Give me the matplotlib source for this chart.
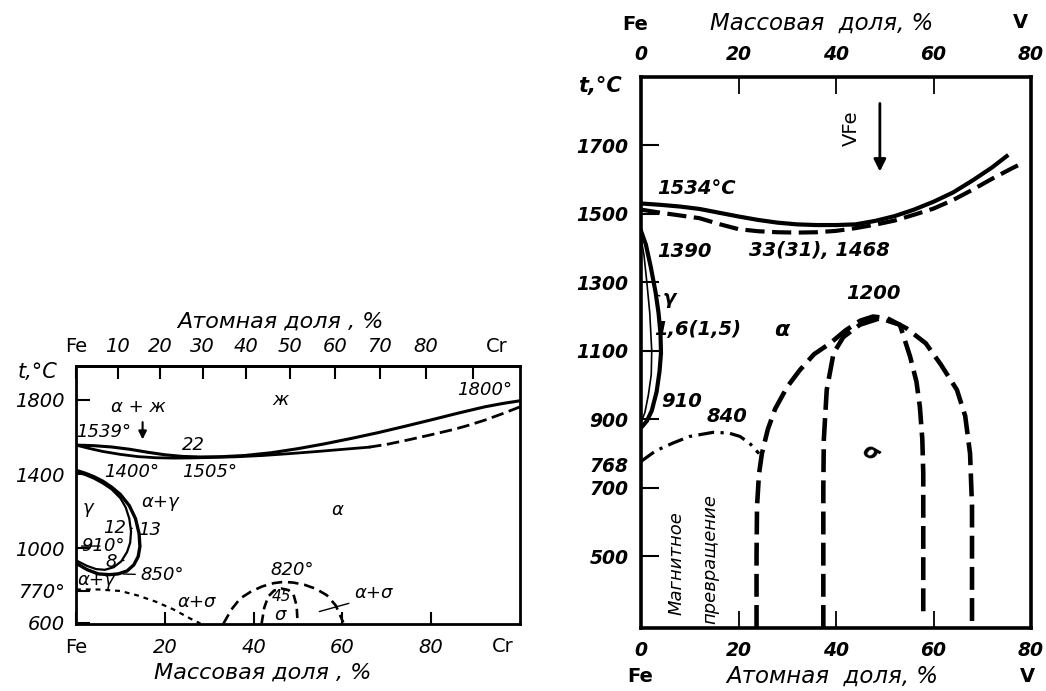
import numpy as np
import matplotlib.pyplot as plt

W, H = 1046, 691

# -------------------------------------------------
# Fe-Cr (left panel): mass % Cr, t in degC
# -------------------------------------------------
cr_liq_x = [0, 4, 8, 12, 16, 20, 24, 28, 33, 38, 44, 50, 56, 62, 68, 74, 80, 86, 92, 96, 100]
cr_liq_t = [1556, 1553, 1546, 1534, 1518, 1504, 1495, 1492, 1494, 1500, 1515, 1537, 1563,
            1592, 1623, 1657, 1692, 1728, 1762, 1780, 1795]

cr_sol_x = [0, 3, 6, 10, 14, 18, 22, 26, 30, 36, 42, 48, 54, 60, 66]
cr_sol_t = [1556, 1538, 1522, 1506, 1494, 1488, 1486, 1487, 1489, 1493, 1500, 1510, 1521, 1533, 1545]
cr_sol_dash_x = [66, 70, 75, 80, 85, 88, 92, 96, 100]
cr_sol_dash_t = [1545, 1560, 1585, 1612, 1640, 1660, 1690, 1725, 1762]

cr_gam_in_x = [0, 2, 4, 6, 8, 10, 11.2, 12, 12.4, 12.2, 11.5, 10.2, 8.5, 6.5, 4.5, 2.5, 0]
cr_gam_in_t = [1410, 1396, 1376, 1350, 1318, 1270, 1220, 1160, 1090, 1030, 980, 930, 898, 884, 888, 905, 935]
cr_gam_out_x = [0, 2, 4, 6, 8, 10, 12, 13.4, 14.2, 14.4, 14, 13, 11.5, 9.5, 7.5, 5, 2.5, 0]
cr_gam_out_t = [1420, 1405, 1386, 1362, 1330, 1290, 1230, 1160, 1080, 1010, 955, 910, 878, 862,
                858, 862, 885, 920]

cr_mag_x = [0, 5, 10, 14, 18, 22, 26, 28]
cr_mag_t = [778, 778, 770, 745, 712, 670, 618, 595]

cr_sig_out_x = [33.2, 35, 37, 39.5, 42, 44.5, 46.7, 49, 51.5, 54, 56.5, 58.5, 60.2]
cr_sig_out_t = [594, 670, 730, 768, 795, 812, 819, 815, 803, 782, 747, 692, 600]
cr_sig_in_x = [41.8, 42.4, 43.3, 44.6, 46.3, 47.8, 49, 49.7, 49.9]
cr_sig_in_t = [594, 680, 740, 772, 783, 775, 750, 690, 600]

cr_yticks = [600, 770, 1000, 1400, 1800]
cr_ylabels = ['600', '770°', '1000', '1400', '1800']
cr_mass_ticks = [0, 20, 40, 60, 80]
cr_mass_labels = ['Fe', '20', '40', '60', '80']
cr_atom_ticks = [0, 10, 20, 30, 40, 50, 60, 70, 80, 90]
cr_atom_labels = ['Fe', '10', '20', '30', '40', '50', '60', '70', '80', '']

# -------------------------------------------------
# Fe-V (right panel): % V, t in degC
# -------------------------------------------------
v_liq_x = [0, 4, 8, 12, 16, 20, 24, 28, 32, 36, 40, 44, 48, 52, 56, 60, 64, 68, 72, 75]
v_liq_t = [1530, 1526, 1521, 1514, 1503, 1492, 1482, 1474, 1469, 1467, 1467, 1469, 1479,
           1493, 1512, 1535, 1562, 1597, 1635, 1668]

v_sol_x = [0, 4, 8, 12, 16, 20, 24, 28, 32, 36, 40, 44, 48, 52, 56, 60, 64, 68, 72, 76, 78]
v_sol_t = [1512, 1503, 1495, 1487, 1470, 1455, 1449, 1446, 1445, 1446, 1450, 1458, 1468,
           1480, 1497, 1515, 1540, 1570, 1602, 1632, 1646]

v_gam_out_x = [0, 1, 2, 3, 3.6, 4.0, 4.1, 3.8, 3.2, 2.2, 1.2, 0]
v_gam_out_t = [1450, 1410, 1345, 1270, 1210, 1150, 1093, 1040, 980, 925, 895, 875]
v_gam_in_x = [0, 0.6, 1.2, 1.8, 2.2, 2.1, 1.5, 0.8, 0]
v_gam_in_t = [1430, 1380, 1300, 1210, 1100, 1030, 970, 920, 890]

v_mag_x = [0, 3, 6.6, 10, 14.8, 18, 20.3, 22.3, 24.2]
v_mag_t = [777, 808, 831, 850, 862, 860, 850, 830, 800]

v_sig_out_x = [23.7, 23.7, 23.8, 24.2, 24.8, 26, 27.5, 30, 32.6, 35.5, 38.8, 42, 45, 47.6,
               50.5, 54.4, 58.4, 61.5, 64.8, 66.5, 67.5, 67.9, 67.9]
v_sig_out_t = [291, 500, 646, 740, 800, 870, 930, 995, 1044, 1090, 1122, 1160, 1188, 1200,
               1195, 1166, 1122, 1060, 986, 910, 800, 646, 291]
v_sig_in_x = [37.4, 37.4, 37.5, 38.1, 39.5, 41.5, 44.9, 49, 53.1, 55.2, 56.5, 57.2, 57.7, 57.9, 57.9]
v_sig_in_t = [291, 700, 840, 986, 1093, 1140, 1176, 1195, 1176, 1083, 1010, 937, 843, 743, 330]

v_yticks = [500, 700, 900, 1100, 1300, 1500, 1700]
v_xticks = [0, 20, 40, 60, 80]


def px(x, y):
    # pixel position in the 1046x691 picture -> figure fraction
    return x / W, 1 - y / H


def mass_to_at(m):
    m = np.clip(np.asarray(m, dtype=float), 0, 100)
    a = m / 52.0
    b = (100 - m) / 55.85
    return 100 * a / (a + b)


def at_to_mass(a):
    a = np.clip(np.asarray(a, dtype=float), 0, 100)
    m = a * 52.0
    f = (100 - a) * 55.85
    return 100 * m / (m + f)


it = dict(fontstyle='italic')
fig = plt.figure(figsize=(W / 100, H / 100), dpi=100)

# -------------------------------------------------
# Left: Fe-Cr
# -------------------------------------------------
ax1 = fig.add_axes([76 / W, 1 - 624 / H, 444 / W, (624 - 365.7) / H])
ax1.set_xlim(0, 100)
ax1.set_ylim(592, 1984)
for s in ax1.spines.values():
    s.set_linewidth(2)

ax1.plot(cr_liq_x, cr_liq_t, color='k', lw=2.2)
ax1.plot(cr_sol_x, cr_sol_t, color='k', lw=2.0)
ax1.plot(cr_sol_dash_x, cr_sol_dash_t, color='k', lw=2.0, dashes=(4.5, 2))
ax1.plot(cr_gam_in_x, cr_gam_in_t, color='k', lw=1.6)
ax1.plot(cr_gam_out_x, cr_gam_out_t, color='k', lw=2.4)
ax1.plot(cr_mag_x, cr_mag_t, color='k', lw=1.6, dashes=(2.2, 2.2))
ax1.plot(cr_sig_out_x, cr_sig_out_t, color='k', lw=1.9, dashes=(4, 2.2))
ax1.plot(cr_sig_in_x, cr_sig_in_t, color='k', lw=1.9, dashes=(3.5, 2))

ax1.set_yticks(cr_yticks, cr_ylabels)
ax1.set_xticks(cr_mass_ticks, cr_mass_labels)
ax1.tick_params(axis='y', direction='in', length=10, width=1.5, pad=8, labelsize=14)
ax1.tick_params(axis='x', direction='in', length=9, width=1.5, pad=10, labelsize=14)
for lab in ax1.get_xticklabels() + ax1.get_yticklabels():
    lab.set_fontstyle('normal' if lab.get_text() == 'Fe' else 'italic')

sec1 = ax1.secondary_xaxis('top', functions=(mass_to_at, at_to_mass))
sec1.set_xticks(cr_atom_ticks, cr_atom_labels)
sec1.tick_params(direction='in', length=9, width=1.5, pad=7, labelsize=14)
sec1.spines['top'].set_linewidth(2)
for lab in sec1.get_xticklabels():
    lab.set_fontstyle('normal' if lab.get_text() == 'Fe' else 'italic')

fig.text(*px(497, 347), 'Cr', fontsize=14, ha='center', va='center')
fig.text(*px(503, 647), 'Cr', fontsize=14, ha='center', va='center')
fig.text(*px(280, 322), 'Атомная доля , %', fontsize=16, ha='center', va='center', **it)
fig.text(*px(263, 673), 'Массовая доля , %', fontsize=16, ha='center', va='center', **it)
fig.text(*px(38, 372), 't,°C', fontsize=15, ha='center', va='center', **it)

tk = dict(fontsize=13, ha='center', va='center', **it)
ax1.text(14, 1761, 'α + ж', **tk)
ax1.text(46, 1799, 'ж', **tk)
ax1.text(92, 1853, '1800°', **tk)
ax1.text(6.3, 1626, '1539°', **tk)
ax1.annotate('', xy=(15, 1572), xytext=(15, 1695),
             arrowprops=dict(arrowstyle='-|>', lw=1.5, color='k', mutation_scale=12))
ax1.text(26.4, 1556, '22', **tk)
ax1.text(12.5, 1410, '1400°', **tk)
ax1.text(30.2, 1410, '1505°', **tk)
ax1.text(2.7, 1216, 'γ', **tk)
ax1.text(18.9, 1249, 'α+γ', **tk)
ax1.text(58.8, 1205, 'α', **tk)
ax1.text(8.8, 1107, '12', **tk)
ax1.annotate('13', xy=(12.4, 1108), xytext=(16.5, 1100), arrowprops=dict(arrowstyle='-', lw=1), **tk)
ax1.annotate('910°', xy=(0.6, 1012), xytext=(6, 1012), arrowprops=dict(arrowstyle='-', lw=1), **tk)
ax1.annotate('8', xy=(10.8, 935), xytext=(8, 925), arrowprops=dict(arrowstyle='-', lw=1), **tk)
ax1.annotate('850°', xy=(10, 862), xytext=(19.5, 855), arrowprops=dict(arrowstyle='-', lw=1), **tk)
ax1.text(4.5, 828, 'α+γ', **tk)
ax1.text(27.2, 711, 'α+σ', **tk)
ax1.text(48.6, 882, '820°', **tk)
ax1.text(46.3, 738, '45', fontsize=11, ha='center', va='center', **it)
ax1.text(46.0, 640, 'σ', **tk)
ax1.annotate('α+σ', xy=(54.2, 655), xytext=(67, 760),
             arrowprops=dict(arrowstyle='-', lw=1, relpos=(0, 0)), **tk)

# -------------------------------------------------
# Right: Fe-V
# -------------------------------------------------
ax2 = fig.add_axes([641 / W, 1 - 628.3 / H, 390 / W, (628.3 - 76.7) / H])
ax2.set_xlim(0, 80)
ax2.set_ylim(290, 1900)
for s in ax2.spines.values():
    s.set_linewidth(2.6)

ax2.plot(v_liq_x, v_liq_t, color='k', lw=3)
ax2.plot(v_sol_x, v_sol_t, color='k', lw=3, dashes=(4.6, 1.8))
ax2.plot(v_gam_out_x, v_gam_out_t, color='k', lw=3)
ax2.plot(v_gam_in_x, v_gam_in_t, color='k', lw=1.2)
ax2.plot(v_mag_x, v_mag_t, color='k', lw=2.3, dashes=(5, 2, 1, 2))
ax2.plot(v_sig_out_x, v_sig_out_t, color='k', lw=3.3, dashes=(5, 1.8))
ax2.plot(v_sig_in_x, v_sig_in_t, color='k', lw=3.3, dashes=(5, 1.8))

bi = dict(fontstyle='italic', fontweight='bold')
ax2.set_yticks(v_yticks)
ax2.set_yticks([768], ['768'], minor=True)
ax2.set_xticks(v_xticks)
ax2.tick_params(axis='y', which='major', direction='in', length=13, width=1.5, pad=9, labelsize=13.5)
ax2.tick_params(axis='y', which='minor', length=0, pad=9, labelsize=13.5)
ax2.tick_params(axis='x', direction='in', length=12, width=1.3, pad=9, labelsize=13.5,
                top=True, labeltop=True)
for lab in (ax2.get_xticklabels() + ax2.get_yticklabels()
            + ax2.get_yticklabels(minor=True)):
    lab.set_fontstyle('italic')
    lab.set_fontweight('bold')

fig.text(*px(635, 25), 'Fe', fontsize=14, fontweight='bold', ha='center', va='center')
fig.text(*px(1020, 22), 'V', fontsize=14, fontweight='bold', ha='center', va='center')
fig.text(*px(822, 23), 'Массовая  доля, %', fontsize=16.5, ha='center', va='center', **it)
fig.text(*px(640, 677), 'Fe', fontsize=14, fontweight='bold', ha='center', va='center')
fig.text(*px(1027, 677), 'V', fontsize=14, fontweight='bold', ha='center', va='center')
fig.text(*px(832, 676), 'Атомная  доля, %', fontsize=16.5, ha='center', va='center', **it)
fig.text(*px(600, 86), 't,°C', fontsize=15, ha='center', va='center', **bi)

tb = dict(fontsize=14, ha='center', va='center', **bi)
ax2.text(43.2, 1750, 'VFe', fontsize=14, rotation=90, ha='center', va='center')
ax2.annotate('', xy=(49, 1615), xytext=(49, 1830),
             arrowprops=dict(arrowstyle='-|>', lw=2, color='k', mutation_scale=18))
ax2.text(11.4, 1574, '1534°C', **tb)
ax2.text(9, 1389, '1390', **tb)
ax2.text(36.7, 1394, '33(31), 1468', **tb)
ax2.annotate('γ', xy=(3.4, 1262), xytext=(5.8, 1253),
             arrowprops=dict(arrowstyle='-', lw=1), **tb)
ax2.text(47.7, 1268, '1200', **tb)
ax2.text(11.6, 1161, '1,6(1,5)', **tb)
ax2.text(28.9, 1161, 'α', fontsize=16, ha='center', va='center', **bi)
ax2.text(8.3, 952, '910', **tb)
ax2.text(17.6, 908, '840', **tb)
ax2.text(47, 801, 'σ', fontsize=15, rotation=-30, ha='center', va='center', **bi)
ax2.text(7.3, 481, 'Магнитное', fontsize=13, rotation=90, ha='center', va='center', **it)
ax2.text(14.2, 491, 'превращение', fontsize=13, rotation=90, ha='center', va='center', **it)

fig.savefig('out.png', dpi=100)
